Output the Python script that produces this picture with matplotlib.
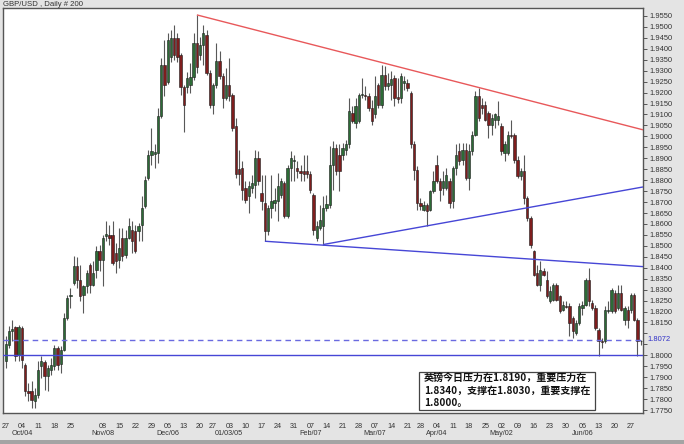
import numpy as np
import pandas as pd
import matplotlib
matplotlib.use("Agg")
import matplotlib.pyplot as plt
import matplotlib.transforms as mtransforms
from matplotlib.patches import Rectangle

# ---------------- data (GBP/USD daily OHLC) ----------------
opens = [1.7972, 1.8049, 1.8113, 1.8128, 1.8003, 1.8125, 1.7957, 1.7838, 1.7835, 1.7790,
         1.7820, 1.7950, 1.7970, 1.7904, 1.7935, 1.7950, 1.8034, 1.7960, 1.8026, 1.8171,
         1.8270, 1.8331, 1.8407, 1.8346, 1.8277, 1.8315, 1.8414, 1.8323, 1.8391, 1.8475,
         1.8437, 1.8544, 1.8551, 1.8551, 1.8468, 1.8437, 1.8536, 1.8460, 1.8536, 1.8574,
         1.8566, 1.8570, 1.8597, 1.8681, 1.8810, 1.8917, 1.8920, 1.8925, 1.9092, 1.9328,
         1.9250, 1.9363, 1.9449, 1.9449, 1.9372, 1.9225, 1.9225, 1.9235, 1.9271, 1.9427,
         1.9372, 1.9417, 1.9463, 1.9290, 1.9145, 1.9237, 1.9343, 1.9275, 1.9176, 1.9237,
         1.9191, 1.9046, 1.8853, 1.8856, 1.8765, 1.8727, 1.8765, 1.8780, 1.8902, 1.8742,
         1.8696, 1.8567, 1.8673, 1.8696, 1.8704, 1.8734, 1.8787, 1.8635, 1.8856, 1.8886,
         1.8856, 1.8841, 1.8844, 1.8841, 1.8826, 1.8734, 1.8536, 1.8582, 1.8589, 1.8673,
         1.8688, 1.8871, 1.8947, 1.8917, 1.8917, 1.8940, 1.8963, 1.9107, 1.9062, 1.9069,
         1.9187, 1.9191, 1.9183, 1.9130, 1.9100, 1.9237, 1.9145, 1.9282, 1.9229, 1.9237,
         1.9267, 1.9179, 1.9176, 1.9244, 1.9244, 1.9199, 1.8963, 1.8848, 1.8696, 1.8666,
         1.8688, 1.8666, 1.8749, 1.8871, 1.8795, 1.8765, 1.8765, 1.8795, 1.8704, 1.8856,
         1.8932, 1.8894, 1.8940, 1.8810, 1.8932, 1.9008, 1.9183, 1.9145, 1.9145, 1.9107,
         1.9054, 1.9077, 1.9077, 1.9046, 1.8925, 1.8925, 1.9008, 1.9008, 1.8894, 1.8818,
         1.8841, 1.8719, 1.8628, 1.8475, 1.8376, 1.8323, 1.8383, 1.8346, 1.8246, 1.8254,
         1.8323, 1.8269, 1.8209, 1.8227, 1.8224, 1.8170, 1.8102, 1.8148, 1.8216, 1.8231,
         1.8346, 1.8239, 1.8216, 1.8117, 1.8067, 1.8064, 1.8201, 1.8201, 1.8285, 1.8216,
         1.8285, 1.8163, 1.8209, 1.8209, 1.8277, 1.8163, 1.8067]
highs = [1.8087, 1.8132, 1.8163, 1.8132, 1.8140, 1.8132, 1.7965, 1.7874, 1.7881, 1.7851,
         1.7972, 1.7995, 1.7980, 1.7957, 1.7988, 1.8049, 1.8041, 1.8041, 1.8194, 1.8277,
         1.8308, 1.8452, 1.8448, 1.8414, 1.8323, 1.8391, 1.8422, 1.8429, 1.8498, 1.8506,
         1.8551, 1.8612, 1.8597, 1.8612, 1.8513, 1.8582, 1.8582, 1.8574, 1.8627, 1.8612,
         1.8597, 1.8605, 1.8726, 1.8818, 1.8940, 1.9039, 1.8963, 1.9130, 1.9358, 1.9442,
         1.9472, 1.9486, 1.9509, 1.9472, 1.9381, 1.9235, 1.9294, 1.9335, 1.9472, 1.9555,
         1.9454, 1.9509, 1.9486, 1.9305, 1.9244, 1.9427, 1.9389, 1.9290, 1.9313, 1.9359,
         1.9199, 1.9084, 1.8940, 1.8886, 1.8795, 1.8795, 1.8825, 1.8940, 1.8932, 1.8825,
         1.8825, 1.8688, 1.8825, 1.8765, 1.8833, 1.8810, 1.8795, 1.8871, 1.8932, 1.8917,
         1.8886, 1.8871, 1.8917, 1.8917, 1.8841, 1.8742, 1.8612, 1.8688, 1.8726, 1.8734,
         1.8955, 1.8978, 1.8963, 1.8963, 1.8970, 1.8985, 1.9176, 1.9138, 1.9176, 1.9199,
         1.9267, 1.9229, 1.9199, 1.9168, 1.9275, 1.9244, 1.9328, 1.9320, 1.9290, 1.9298,
         1.9282, 1.9267, 1.9290, 1.9275, 1.9260, 1.9206, 1.8978, 1.8864, 1.8719, 1.8704,
         1.8696, 1.8757, 1.8841, 1.8917, 1.8810, 1.8841, 1.8856, 1.8810, 1.8864, 1.8963,
         1.8970, 1.8970, 1.8970, 1.8963, 1.9023, 1.9206, 1.9222, 1.9176, 1.9160, 1.9115,
         1.9100, 1.9107, 1.9160, 1.9062, 1.8978, 1.9023, 1.9077, 1.9016, 1.8909, 1.8856,
         1.8917, 1.8726, 1.8635, 1.8483, 1.8414, 1.8429, 1.8399, 1.8384, 1.8315, 1.8331,
         1.8331, 1.8277, 1.8247, 1.8247, 1.8239, 1.8178, 1.8163, 1.8239, 1.8247, 1.8353,
         1.8399, 1.8254, 1.8231, 1.8125, 1.8079, 1.8224, 1.8247, 1.8307, 1.8300, 1.8323,
         1.8323, 1.8224, 1.8224, 1.8285, 1.8285, 1.8170, 1.8072]
lows = [1.7942, 1.8034, 1.8064, 1.7972, 1.7972, 1.7942, 1.7812, 1.7789, 1.7759, 1.7759,
        1.7805, 1.7896, 1.7843, 1.7835, 1.7911, 1.7934, 1.7934, 1.7919, 1.8018, 1.8163,
        1.8216, 1.8323, 1.8308, 1.8247, 1.8193, 1.8285, 1.8285, 1.8315, 1.8353, 1.8384,
        1.8315, 1.8521, 1.8506, 1.8414, 1.8376, 1.8399, 1.8429, 1.8444, 1.8529, 1.8468,
        1.8468, 1.8521, 1.8521, 1.8673, 1.8803, 1.8871, 1.8856, 1.8879, 1.9084, 1.9183,
        1.9240, 1.9340, 1.9349, 1.9340, 1.9189, 1.9020, 1.9198, 1.9198, 1.9258, 1.9290,
        1.9349, 1.9326, 1.9280, 1.9130, 1.9100, 1.9222, 1.9260, 1.9130, 1.9168, 1.9160,
        1.9023, 1.8810, 1.8780, 1.8711, 1.8696, 1.8650, 1.8742, 1.8719, 1.8780, 1.8666,
        1.8521, 1.8551, 1.8628, 1.8658, 1.8612, 1.8719, 1.8628, 1.8628, 1.8795, 1.8795,
        1.8810, 1.8795, 1.8795, 1.8810, 1.8742, 1.8551, 1.8521, 1.8574, 1.8506, 1.8658,
        1.8673, 1.8757, 1.8825, 1.8749, 1.8894, 1.8917, 1.8947, 1.9062, 1.9039, 1.9062,
        1.9176, 1.9168, 1.9115, 1.9054, 1.9084, 1.9130, 1.9130, 1.9214, 1.9214, 1.9168,
        1.9138, 1.9153, 1.9153, 1.9214, 1.9206, 1.8947, 1.8803, 1.8666, 1.8666, 1.8658,
        1.8589, 1.8658, 1.8742, 1.8787, 1.8704, 1.8734, 1.8757, 1.8673, 1.8673, 1.8825,
        1.8871, 1.8871, 1.8803, 1.8757, 1.8917, 1.9001, 1.9069, 1.9100, 1.9069, 1.8993,
        1.9008, 1.9039, 1.9054, 1.8917, 1.8886, 1.8917, 1.8993, 1.8879, 1.8810, 1.8803,
        1.8689, 1.8612, 1.8491, 1.8361, 1.8315, 1.8292, 1.8361, 1.8262, 1.8239, 1.8246,
        1.8246, 1.8193, 1.8201, 1.8216, 1.8087, 1.8079, 1.8094, 1.8140, 1.8186, 1.8224,
        1.8224, 1.8209, 1.8117, 1.7995, 1.8034, 1.8056, 1.8193, 1.8193, 1.8193, 1.8209,
        1.8201, 1.8140, 1.8125, 1.8193, 1.8155, 1.7995, 1.8049]
closes = [1.8052, 1.8113, 1.8122, 1.7995, 1.8128, 1.7980, 1.7835, 1.7828, 1.7797, 1.7820,
          1.7934, 1.7972, 1.7904, 1.7942, 1.7957, 1.8034, 1.7957, 1.8026, 1.8171, 1.8262,
          1.8277, 1.8407, 1.8346, 1.8270, 1.8315, 1.8376, 1.8323, 1.8376, 1.8475, 1.8437,
          1.8536, 1.8554, 1.8536, 1.8422, 1.8429, 1.8490, 1.8452, 1.8536, 1.8589, 1.8521,
          1.8475, 1.8589, 1.8673, 1.8803, 1.8917, 1.8932, 1.8929, 1.9092, 1.9328, 1.9237,
          1.9440, 1.9449, 1.9372, 1.9363, 1.9225, 1.9143, 1.9267, 1.9271, 1.9427, 1.9317,
          1.9417, 1.9472, 1.9290, 1.9145, 1.9237, 1.9343, 1.9275, 1.9176, 1.9237, 1.9183,
          1.9039, 1.8826, 1.8829, 1.8757, 1.8711, 1.8772, 1.8787, 1.8902, 1.8795, 1.8704,
          1.8567, 1.8673, 1.8704, 1.8711, 1.8772, 1.8795, 1.8635, 1.8856, 1.8902, 1.8894,
          1.8841, 1.8833, 1.8829, 1.8826, 1.8757, 1.8574, 1.8589, 1.8620, 1.8673, 1.8689,
          1.8871, 1.8947, 1.8841, 1.8841, 1.8947, 1.8963, 1.9115, 1.9069, 1.9138, 1.9191,
          1.9194, 1.9183, 1.9130, 1.9069, 1.9183, 1.9145, 1.9282, 1.9229, 1.9244, 1.9260,
          1.9176, 1.9173, 1.9275, 1.9252, 1.9222, 1.8963, 1.8848, 1.8696, 1.8681, 1.8688,
          1.8658, 1.8749, 1.8795, 1.8795, 1.8757, 1.8795, 1.8825, 1.8696, 1.8856, 1.8917,
          1.8886, 1.8940, 1.8810, 1.8932, 1.9008, 1.9183, 1.9084, 1.9130, 1.9077, 1.9054,
          1.9084, 1.9100, 1.9092, 1.8932, 1.8963, 1.9008, 1.9001, 1.8894, 1.8818, 1.8841,
          1.8719, 1.8628, 1.8506, 1.8368, 1.8323, 1.8391, 1.8368, 1.8270, 1.8292, 1.8323,
          1.8254, 1.8201, 1.8231, 1.8219, 1.8148, 1.8110, 1.8148, 1.8224, 1.8231, 1.8346,
          1.8246, 1.8216, 1.8125, 1.8064, 1.8061, 1.8209, 1.8209, 1.8300, 1.8201, 1.8285,
          1.8209, 1.8216, 1.8163, 1.8277, 1.8163, 1.8064, 1.8064]

first_day = "2004-09-27"
holidays = ["2004-12-24", "2005-03-25"]

day_tick_dates = ["2004-09-27", "2004-10-04", "2004-10-11", "2004-10-18", "2004-10-25",
                  "2004-11-08", "2004-11-15", "2004-11-22", "2004-11-29", "2004-12-06",
                  "2004-12-13", "2004-12-20", "2004-12-27", "2005-01-03", "2005-01-10",
                  "2005-01-17", "2005-01-24", "2005-01-31", "2005-02-07", "2005-02-14",
                  "2005-02-21", "2005-02-28", "2005-03-07", "2005-03-14", "2005-03-21",
                  "2005-03-28", "2005-04-04", "2005-04-11", "2005-04-18", "2005-04-25",
                  "2005-05-02", "2005-05-09", "2005-05-16", "2005-05-23", "2005-05-30",
                  "2005-06-06", "2005-06-13", "2005-06-20", "2005-06-27"]
month_label_dates = ["2004-10-04", "2004-11-08", "2004-12-06", "2005-01-03", "2005-02-07",
                     "2005-03-07", "2005-04-04", "2005-05-02", "2005-06-06"]
month_labels = ["Oct/04", "Nov/08", "Dec/06", "01/03/05", "Feb/07",
                "Mar/07", "Apr/04", "May/02", "Jun/06"]

# trend lines: start (bar, price) -> price at right edge
red_line = (59, 1.9555, 1.9030)
blue_down = (80, 1.8521, 1.8405)
blue_up = (98, 1.8506, 1.8769)
support_level = 1.8000
dashed_level = 1.8072

y_min, y_max, y_step = 1.7750, 1.9550, 0.0050
hidden_ylabels = [1.8100, 1.8050]

title = "GBP/USD , Daily # 200"
note_lines = ["英镑今日压力在1.8190，重要压力在",
              "1.8340，支撑在1.8030，重要支撑在",
              "1.8000。"]

# ---------------- figure ----------------
W, H = 684, 444
fig = plt.figure(figsize=(W / 100, H / 100), dpi=100, facecolor="#e4e4e4")
ax = fig.add_axes([3 / W, 1 - 413 / H, 640 / W, 405 / H])
ax.set_facecolor("white")

o = np.array(opens); h = np.array(highs); l = np.array(lows); c = np.array(closes)
n = len(o)
x = np.arange(n)

dates = pd.bdate_range(first_day, periods=n + 20)
dates = dates[~dates.isin(pd.to_datetime(holidays))][:n]
pos = {d: i for i, d in enumerate(dates)}

x_left, x_right = -0.83, 196.7
ax.set_xlim(x_left, x_right)
ax.set_ylim(1.77364, 1.95865)

# wicks & bodies
ax.vlines(x, l, h, color="#585858", lw=0.8, zorder=2)
up = c >= o
bb = np.minimum(o, c)
bh = np.maximum(np.abs(c - o), 0.00035)
ax.bar(x[up], bh[up], bottom=bb[up], width=0.72, color="#2c6b36",
       edgecolor="#1c1c1c", linewidth=0.4, zorder=3)
ax.bar(x[~up], bh[~up], bottom=bb[~up], width=0.72, color="#7e1d1d",
       edgecolor="#1c1c1c", linewidth=0.4, zorder=3)

# lines
for (x0, p0, p1), col in [(red_line, "#e8585a"), (blue_down, "#4646d6"), (blue_up, "#4646d6")]:
    ax.plot([x0, x_right], [p0, p1], color=col, lw=1.0, zorder=4, solid_capstyle="butt")
ax.axhline(support_level, color="#4646d6", lw=1.0, zorder=4)
ax.axhline(dashed_level, color="#6a6ae0", lw=1.0, ls=(0, (4, 3)), zorder=4)

# spines
for s in ax.spines.values():
    s.set_color("#555555")
    s.set_linewidth(1.0)

# y axis on right
yt = np.round(np.arange(y_min, y_max + 1e-9, y_step), 4)
ax.yaxis.tick_right()
ax.set_yticks(yt)
ax.set_yticklabels(["" if any(abs(v - hv) < 1e-6 for hv in hidden_ylabels) else f"{v:.4f}" for v in yt])
ax.tick_params(axis="y", direction="out", length=3, width=0.7, color="#555555", pad=1.5,
               labelsize=5.4, labelcolor="#333333")
for t in ax.get_yticklabels():
    t.set_fontfamily("Liberation Sans")
ytr = mtransforms.blended_transform_factory(ax.transAxes, ax.transData)
ax.text(1.0 + 4.5 / 640, dashed_level, f"{dashed_level:.4f}", transform=ytr, color="#3030c8",
        fontsize=5.4, family="Liberation Sans", va="center", ha="left")

# x axis: day labels + month labels
tick_pos = [pos[pd.Timestamp(d)] for d in day_tick_dates]
ax.set_xticks(tick_pos)
ax.set_xticklabels([pd.Timestamp(d).strftime("%d") for d in day_tick_dates])
ax.tick_params(axis="x", length=0, pad=7, labelsize=5.2, labelcolor="#333333")
for t in ax.get_xticklabels():
    t.set_fontfamily("Liberation Sans")
xtr = mtransforms.blended_transform_factory(ax.transData, fig.transFigure)
for d, lab in zip(month_label_dates, month_labels):
    ax.text(pos[pd.Timestamp(d)], 1 - 433 / H, lab, transform=xtr, ha="center", va="center",
            fontsize=5.2, family="Liberation Sans", color="#333333", clip_on=False)

# bottom band
fig.patches.append(Rectangle((0, 0), 1, 4 / H, transform=fig.transFigure,
                             facecolor="#a4a4a4", edgecolor="none", zorder=0))

# title
fig.text(3 / W, 1 - 1 / H, title, ha="left", va="top", fontsize=5.6,
         family="Liberation Sans", color="#333333")

# note box
fig.patches.append(Rectangle((419 / W, 1 - 410 / H), 176 / W, 38 / H, transform=fig.transFigure,
                             facecolor="white", edgecolor="#444444", linewidth=0.9, zorder=5))
for k, line in enumerate(note_lines):
    fig.text(424 / W, 1 - (379 + 11.8 * k) / H, line, ha="left", va="center",
             fontsize=7.2, fontweight="bold", family=["Noto Sans CJK SC", "DejaVu Sans"],
             color="#111111", zorder=6)

fig.savefig("out.png", dpi=100, facecolor=fig.get_facecolor())
